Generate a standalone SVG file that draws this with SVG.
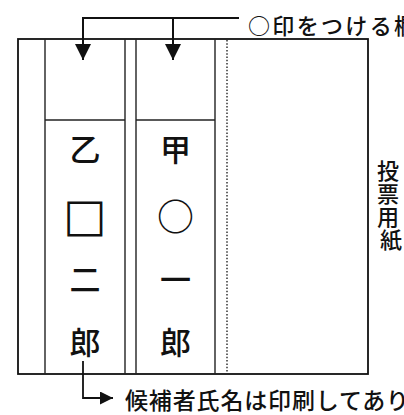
<svg xmlns="http://www.w3.org/2000/svg" width="404" height="415" viewBox="0 0 404 415">
  <style>
    .ln { stroke: #111; stroke-width: 1.8; fill: none; }
    .thin { stroke: #222; stroke-width: 1.4; fill: none; }
    .dot { stroke: #333; stroke-width: 1.5; stroke-dasharray: 1.5 1.8; fill: none; }
    .t { font-family: "Liberation Sans", "Noto Sans CJK JP", sans-serif; fill: #111; font-weight: 500; }
    .sym { font-family: "Noto Sans CJK JP", "Liberation Sans", sans-serif; }
    .sq { font-family: "DejaVu Sans", "Noto Sans CJK JP", sans-serif; font-weight: normal; }
    .name { font-size: 31px; text-anchor: middle; dominant-baseline: central; }
    .lbl { font-size: 22px; dominant-baseline: central; }
  </style>
  <defs>
    <marker id="ah" viewBox="0 0 10 10" refX="10" refY="5" markerWidth="17" markerHeight="16" markerUnits="userSpaceOnUse" orient="auto">
      <path d="M0,0 L10,5 L0,10 Z" fill="#111"/>
    </marker>
    <marker id="ah2" viewBox="0 0 10 10" refX="10" refY="5" markerWidth="14" markerHeight="13" markerUnits="userSpaceOnUse" orient="auto">
      <path d="M0,0 L10,5 L0,10 Z" fill="#111"/>
    </marker>
  </defs>
  <rect width="404" height="415" fill="#fff"/>

  <g id="ballot">
    <rect x="18" y="39" width="350" height="335" class="ln"/>
    <line x1="45" y1="39" x2="45" y2="374" class="thin"/>
    <line x1="227" y1="40" x2="227" y2="373" class="dot"/>
  </g>

  <g id="column-otsu">
    <line x1="125" y1="39" x2="125" y2="374" class="thin"/>
    <line x1="45" y1="120" x2="125" y2="120" class="thin"/>
    <text class="t name" x="85" y="150">乙</text>
    <text class="t sq name" x="85" y="215" style="font-size:46px">□︎</text>
    <text class="t name" x="85" y="280">二</text>
    <text class="t name" x="85" y="343">郎</text>
  </g>

  <g id="column-ko">
    <line x1="136" y1="39" x2="136" y2="374" class="thin"/>
    <line x1="215" y1="39" x2="215" y2="374" class="thin"/>
    <line x1="136" y1="120" x2="215" y2="120" class="thin"/>
    <text class="t name" x="175.5" y="150">甲</text>
    <text class="t sym name" x="175.5" y="215" style="font-size:37px">○</text>
    <text class="t name" x="175.5" y="280">一</text>
    <text class="t name" x="175.5" y="343">郎</text>
  </g>

  <g id="label-ballot">
    <text class="t" font-size="22" text-anchor="middle" x="391">
      <tspan x="391" y="179">投</tspan>
      <tspan x="391" y="202">票</tspan>
      <tspan x="391" y="225">用</tspan>
      <tspan x="391" y="248">紙</tspan>
    </text>
  </g>

  <g id="label-mark">
    <text class="t sym lbl" x="248" y="23.5" textLength="168" lengthAdjust="spacing">○印をつける欄</text>
  </g>

  <g id="label-printed">
    <text class="t lbl" x="125" y="401" textLength="284" lengthAdjust="spacing" style="font-size:23px">候補者氏名は印刷してあり</text>
  </g>

  <g id="connectors">
    <polyline points="239,18 83,18 83,60" class="ln" style="stroke-width:2" marker-end="url(#ah)"/>
    <line x1="173" y1="18" x2="173" y2="60" class="ln" style="stroke-width:2" marker-end="url(#ah)"/>
    <polyline points="83,361 83,398 113,398" class="ln" marker-end="url(#ah2)"/>
  </g>
</svg>
